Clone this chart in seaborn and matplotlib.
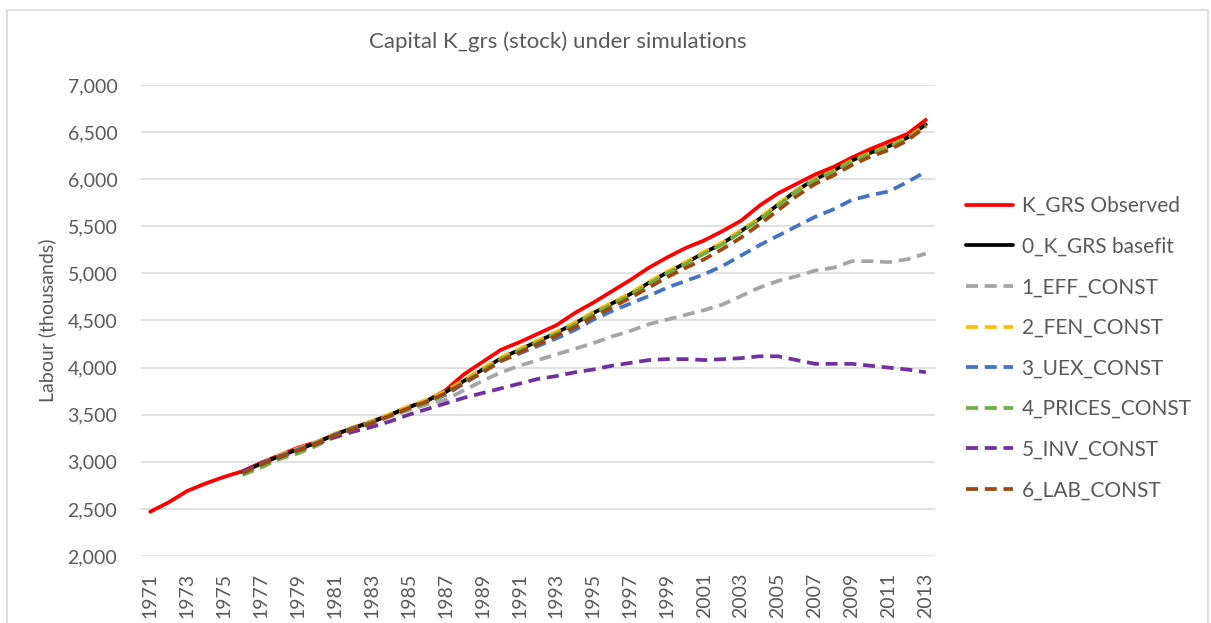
import matplotlib
matplotlib.use("Agg")
import matplotlib.pyplot as plt
import seaborn as sns
import pandas as pd
from matplotlib.patches import Rectangle

years = list(range(1971, 2014))
sim_years = list(range(1976, 2014))

k_grs_observed = [2470, 2570, 2690, 2770, 2840, 2900, 2990, 3070, 3150, 3210,
                  3290, 3360, 3430, 3500, 3580, 3650, 3760, 3930, 4060, 4190,
                  4270, 4360, 4450, 4580, 4690, 4810, 4930, 5060, 5170, 5270,
                  5350, 5450, 5560, 5720, 5850, 5950, 6050, 6130, 6230, 6320,
                  6400, 6480, 6630]

basefit = [2890, 2980, 3060, 3130, 3200, 3290, 3360, 3420, 3500, 3580,
           3650, 3740, 3860, 3980, 4100, 4190, 4280, 4370, 4470, 4580,
           4680, 4780, 4900, 5010, 5110, 5220, 5320, 5450, 5580, 5730,
           5880, 6000, 6090, 6200, 6280, 6350, 6440, 6580]

eff_const = [2880, 2970, 3050, 3110, 3190, 3280, 3350, 3410, 3480, 3550,
             3610, 3660, 3760, 3860, 3950, 4020, 4080, 4140, 4200, 4260,
             4330, 4390, 4460, 4510, 4560, 4610, 4670, 4760, 4850, 4920,
             4970, 5030, 5060, 5130, 5130, 5120, 5150, 5210]

fen_const = [2890, 2980, 3070, 3140, 3210, 3300, 3370, 3430, 3510, 3590,
             3660, 3750, 3870, 3990, 4110, 4200, 4290, 4380, 4480, 4590,
             4690, 4790, 4910, 5020, 5120, 5230, 5330, 5460, 5590, 5740,
             5880, 6000, 6090, 6200, 6280, 6350, 6440, 6580]

uex_const = [2890, 2980, 3060, 3130, 3200, 3290, 3360, 3420, 3490, 3570,
             3640, 3710, 3830, 3950, 4070, 4150, 4230, 4310, 4400, 4510,
             4600, 4680, 4760, 4850, 4920, 4990, 5080, 5190, 5300, 5400,
             5500, 5600, 5680, 5780, 5830, 5870, 5970, 6080]

prices_const = [2860, 2940, 3030, 3090, 3170, 3270, 3350, 3420, 3490, 3560,
                3630, 3720, 3850, 3970, 4090, 4180, 4270, 4360, 4460, 4570,
                4670, 4770, 4890, 5000, 5100, 5210, 5310, 5440, 5570, 5720,
                5870, 5990, 6080, 6190, 6270, 6340, 6430, 6560]

inv_const = [2900, 2980, 3050, 3120, 3190, 3260, 3320, 3370, 3430, 3500,
             3560, 3620, 3680, 3730, 3780, 3830, 3880, 3910, 3950, 3980,
             4020, 4050, 4080, 4090, 4090, 4080, 4090, 4100, 4120, 4120,
             4080, 4040, 4040, 4040, 4020, 4000, 3980, 3950]

lab_const = [2880, 2970, 3050, 3120, 3190, 3280, 3350, 3410, 3490, 3570,
             3640, 3730, 3840, 3950, 4070, 4160, 4250, 4340, 4430, 4540,
             4640, 4740, 4850, 4960, 5060, 5150, 5260, 5380, 5520, 5670,
             5820, 5950, 6040, 6150, 6240, 6310, 6410, 6560]

series_names = ["K_GRS Observed", "0_K_GRS basefit", "1_EFF_CONST", "2_FEN_CONST",
                "3_UEX_CONST", "4_PRICES_CONST", "5_INV_CONST", "6_LAB_CONST"]
series_values = [k_grs_observed, basefit, eff_const, fen_const,
                 uex_const, prices_const, inv_const, lab_const]
series_colors = ["#FF0000", "#000000", "#A5A5A5", "#FFC000",
                 "#4472C4", "#70AD47", "#7030A0", "#9E480E"]
series_dashed = [False, False, True, True, True, True, True, True]

y_ticks = [2000, 2500, 3000, 3500, 4000, 4500, 5000, 5500, 6000, 6500, 7000]
x_ticks = list(range(1971, 2014, 2))

title = "Capital K_grs (stock) under simulations"
ylabel = "Labour (thousands)"

sns.set_theme(style="white")
plt.rcParams["font.family"] = ["Lato", "DejaVu Sans"]

W, H = 1211, 623
fig = plt.figure(figsize=(W / 100, H / 100), dpi=100)
fig.patch.set_facecolor("white")

# chart border
fig.patches.append(Rectangle((7 / W, -0.1), (1208 - 7) / W, 1 - 10 / H + 0.1,
                             transform=fig.transFigure, fill=False,
                             edgecolor="#D9D9D9", linewidth=1.2, zorder=0))

ax = fig.add_axes([141 / W, 1 - 556 / H, (935 - 141) / W, (556 - 85) / H])

for name, vals, col, dashed in zip(series_names, series_values, series_colors, series_dashed):
    xs = years if len(vals) == len(years) else sim_years
    df = pd.DataFrame({"year": xs, "value": vals})
    sns.lineplot(data=df, x="year", y="value", ax=ax, color=col,
                 linewidth=2.7, label=name,
                 linestyle=(0, (3.2, 1.8)) if dashed else "-")

ax.set_xlim(1970.5, 2013.5)
ax.set_ylim(2000, 7000)
ax.set_yticks(y_ticks)
ax.set_yticklabels([f"{v:,}" for v in y_ticks])
ax.set_xticks(x_ticks)
ax.set_xticklabels([str(v) for v in x_ticks], rotation=90)
ax.grid(axis="y", color="#D9D9D9", linewidth=1.1)
ax.grid(axis="x", visible=False)
ax.set_axisbelow(True)
for s in ax.spines.values():
    s.set_visible(False)
ax.tick_params(axis="both", length=0, labelsize=14, colors="#595959")
ax.tick_params(axis="y", pad=17)
ax.tick_params(axis="x", pad=12)
ax.set_xlabel("")
ax.set_ylabel(ylabel, fontsize=14, color="#595959")
ax.yaxis.set_label_coords((56 - 141) / 794, 0.5)

fig.text(558 / W, 1 - 42 / H, title, ha="center", va="center",
         fontsize=16, color="#595959")

leg = ax.legend(loc="upper left", bbox_to_anchor=(966 / W, 1 - 196 / H),
                bbox_transform=fig.transFigure, frameon=False,
                fontsize=15, handlelength=2.25, handletextpad=0.42,
                labelspacing=0.99, borderaxespad=0, borderpad=0)
for t in leg.get_texts():
    t.set_color("#595959")

fig.savefig("out.png", dpi=100, facecolor="white")
